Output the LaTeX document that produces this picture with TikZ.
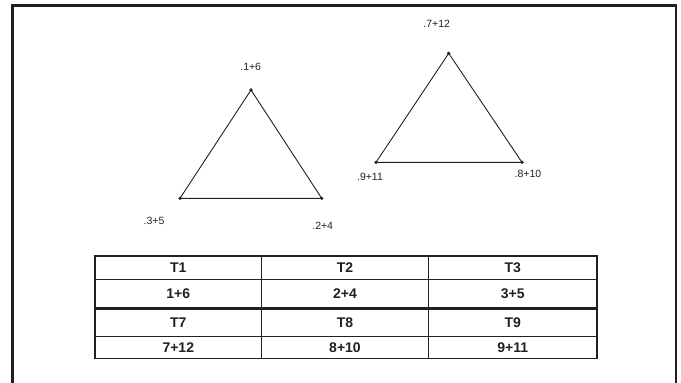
\documentclass[tikz,border=0pt]{standalone}
\usepackage{fontspec}
\setmainfont{Liberation Sans}
\definecolor{ink}{HTML}{231F20}
\begin{document}
\begin{tikzpicture}[x=1pt,y=-1pt,
  vlabel/.style={font=\fontsize{10.5}{12}\selectfont, text=ink, inner sep=0pt},
  cell/.style={font=\fontsize{14}{16}\selectfont\bfseries, text=ink, inner sep=0pt},
  edge/.style={draw=ink, line width=0.9pt},
  vdot/.style={fill=ink},
  frame/.style={draw=ink, line width=2.4pt},
  rule/.style={draw=ink, line width=0.9pt},
  thickrule/.style={draw=ink, line width=3pt},
  outer/.style={draw=ink, line width=1.5pt}]
\useasboundingbox (0,0) rectangle (681,383);
% frame
\draw[frame] (12.5,384) -- (12.5,5.5) -- (675.7,5.5) -- (675.7,384);
% triangle 1
\coordinate (a1) at (251,90);
\coordinate (a2) at (321.7,198.3);
\coordinate (a3) at (180,198.3);
\draw[edge] (a1) -- (a2) -- (a3) -- cycle;
\foreach \p in {a1,a2,a3} \fill[vdot] (\p) circle (1.8);
\node[vlabel] (l16) at (250.7,67.3) {.1+6};
\node[vlabel] (l35) at (154,221) {.3+5};
\node[vlabel] (l24) at (322.7,225.7) {.2+4};
% triangle 2
\coordinate (b1) at (448.7,53.3);
\coordinate (b2) at (522,162.3);
\coordinate (b3) at (376,162.3);
\draw[edge] (b1) -- (b2) -- (b3) -- cycle;
\foreach \p in {b1,b2,b3} \fill[vdot] (\p) circle (1.8);
\node[vlabel] (l712) at (436.7,24) {.7+12};
\node[vlabel] (l911) at (370,177) {.9+11};
\node[vlabel] (l810) at (528,174) {.8+10};
% table
\draw[rule] (95,279.3) -- (597,279.3);
\draw[rule] (95,336) -- (597,336);
\draw[rule] (261.7,256) -- (261.7,358.3);
\draw[rule] (428.3,256) -- (428.3,358.3);
\draw[thickrule] (95,308.7) -- (597,308.7);
\draw[outer] (95,256) rectangle (597,358.3);
\node[cell] (t1) at (178.3,267.7) {T1};
\node[cell] (t2) at (345,267.7) {T2};
\node[cell] (t3) at (512.7,267.7) {T3};
\node[cell] (c16) at (178.3,294) {1+6};
\node[cell] (c24) at (345,294) {2+4};
\node[cell] (c35) at (512.7,294) {3+5};
\node[cell] (t7) at (178.3,322.3) {T7};
\node[cell] (t8) at (345,322.3) {T8};
\node[cell] (t9) at (512.7,322.3) {T9};
\node[cell] (c712) at (178.3,347.3) {7+12};
\node[cell] (c810) at (345,347.3) {8+10};
\node[cell] (c911) at (512.7,347.3) {9+11};
\end{tikzpicture}
\end{document}
